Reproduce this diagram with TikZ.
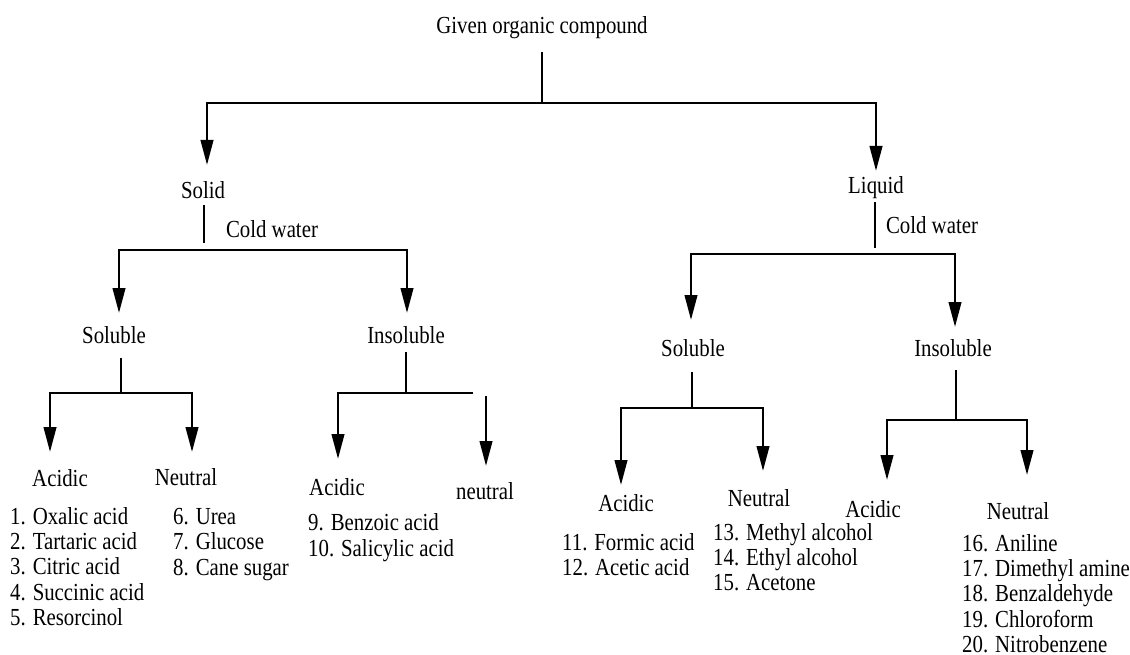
\documentclass[tikz,border=0pt]{standalone}
\usepackage{fontspec}
\setmainfont{Liberation Serif}[FakeStretch=0.85]
\usetikzlibrary{arrows.meta}
\begin{document}
\begin{tikzpicture}[x=1pt,y=-1pt,
  wire/.style={line width=2.6pt},
  arr/.style={wire,-{Triangle[length=25pt,width=12.5pt]}},
  lbl/.style={inner sep=0pt,font=\fontsize{24.5}{24}\selectfont},
  lst/.style={inner sep=0pt,align=left,anchor=north west,font=\fontsize{24.5}{#1}\selectfont}]
\useasboundingbox (0,0) rectangle (1130,655);

% ---- headings ----
\node[lbl] (given) at (542,28) {Given organic compound};
\node[lbl] (solid) at (203,190) {Solid};
\node[lbl] (liquid) at (876,188) {Liquid};
\node[lbl] (cwL) at (272,229) {Cold water};
\node[lbl] (cwR) at (932,225) {Cold water};
\node[lbl] (solL) at (114,335) {Soluble};
\node[lbl] (insL) at (406,335) {Insoluble};
\node[lbl] (solR) at (693,348) {Soluble};
\node[lbl] (insR) at (953,348) {Insoluble};
\node[lbl] (acA) at (60,478) {Acidic};
\node[lbl] (neA) at (186,477) {Neutral};
\node[lbl] (acB) at (337,487) {Acidic};
\node[lbl] (neB) at (485,491) {neutral};
\node[lbl] (acC) at (626,503) {Acidic};
\node[lbl] (neC) at (759,498) {Neutral};
\node[lbl] (acD) at (873,509) {Acidic};
\node[lbl] (neD) at (1018,511) {Neutral};

% ---- compound lists ----
\node[lst=24pt] (listA) at (10,507.2) {\strut 1. Oxalic acid\\\strut 2. Tartaric acid\\\strut 3. Citric acid\\\strut 4. Succinic acid\\\strut 5. Resorcinol};
\node[lst=25.5pt] (listB) at (173,506.2) {\strut 6. Urea\\\strut 7. Glucose\\\strut 8. Cane sugar};
\node[lst=26pt] (listC) at (308,511.8) {\strut 9. Benzoic acid\\\strut 10. Salicylic acid};
\node[lst=23pt] (listD) at (562,532.9) {\strut 11. Formic acid\\\strut 12. Acetic acid};
\node[lst=25pt] (listE) at (713,522.5) {\strut 13. Methyl alcohol\\\strut 14. Ethyl alcohol\\\strut 15. Acetone};
\node[lst=24pt] (listF) at (962,534.2) {\strut 16. Aniline\\\strut 17. Dimethyl amine\\\strut 18. Benzaldehyde\\\strut 19. Chloroform\\20. Nitrobenzene};

% ---- junction points ----
\coordinate (g0) at (542,52);
\coordinate (g1) at (542,103);
\coordinate (gL) at (207,165);
\coordinate (gR) at (876,171);

\coordinate (s0) at (204,205);
\coordinate (s1) at (204,243);
\coordinate (sm) at (263,250);
\coordinate (sL) at (119,313);
\coordinate (sR) at (407,313);

\coordinate (l0) at (875,202);
\coordinate (l1) at (875,248);
\coordinate (lm) at (823,254);
\coordinate (lL) at (691,320);
\coordinate (lR) at (955,327);

\coordinate (a0) at (121,358);
\coordinate (a1) at (121,393);
\coordinate (aL) at (50,452);
\coordinate (aR) at (192,452);

\coordinate (b0) at (406,352);
\coordinate (b1) at (406,393);
\coordinate (bL) at (338,459);
\coordinate (bE) at (473,393);
\coordinate (n0) at (486,396);
\coordinate (n1) at (486,466);

\coordinate (c0) at (692,372);
\coordinate (c1) at (692,408);
\coordinate (cL) at (621,485);
\coordinate (cR) at (763,471);

\coordinate (d0) at (956,370);
\coordinate (d1) at (956,420);
\coordinate (dL) at (887,480);
\coordinate (dR) at (1027,475);

% ---- connectors ----
\draw[wire] (g0) -- (g1);
\draw[arr] (g1) -| (gL);
\draw[arr] (g1) -| (gR);

\draw[wire] (s0) -- (s1);
\draw[arr] (sm) -| (sL);
\draw[arr] (sm) -| (sR);

\draw[wire] (l0) -- (l1);
\draw[arr] (lm) -| (lL);
\draw[arr] (lm) -| (lR);

\draw[wire] (a0) -- (a1);
\draw[arr] (a1) -| (aL);
\draw[arr] (a1) -| (aR);

\draw[wire] (b0) -- (b1);
\draw[arr] (b1) -| (bL);
\draw[wire] (b1) -- (bE);
\draw[arr] (n0) -- (n1);

\draw[wire] (c0) -- (c1);
\draw[arr] (c1) -| (cL);
\draw[arr] (c1) -| (cR);

\draw[wire] (d0) -- (d1);
\draw[arr] (d1) -| (dL);
\draw[arr] (d1) -| (dR);
\end{tikzpicture}
\end{document}
